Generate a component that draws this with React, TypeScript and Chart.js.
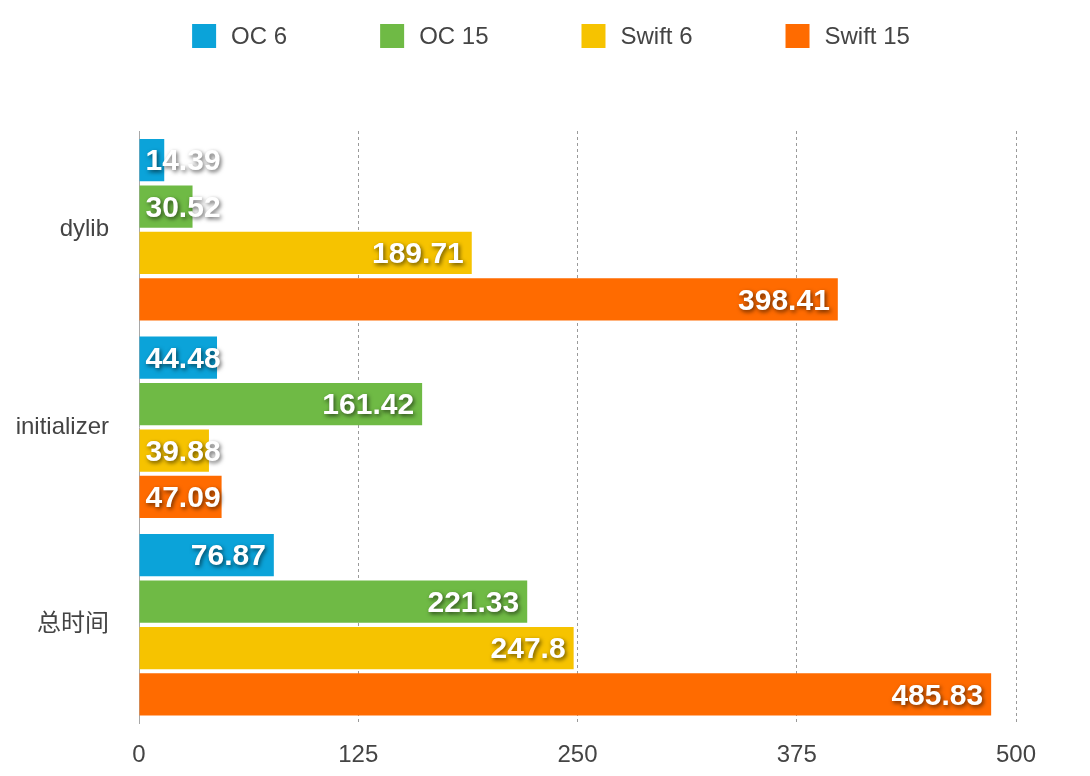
import React, { useEffect, useRef } from "react";
import { Chart, registerables } from "chart.js";

Chart.register(...registerables);

const categories = ["dylib", "initializer", "总时间"];
const seriesNames = ["OC 6", "OC 15", "Swift 6", "Swift 15"];
const oc6 = [14.39, 44.48, 76.87];
const oc15 = [30.52, 161.42, 221.33];
const swift6 = [189.71, 39.88, 247.8];
const swift15 = [398.41, 47.09, 485.83];
const xTicks = [0, 125, 250, 375, 500];
const colors = ["#0BA3D9", "#6FBA45", "#F6C300", "#FF6B00"];

const FONT = "'Liberation Sans', Arial, 'Noto Sans CJK SC', sans-serif";

const legendPlugin = {
  id: "customLegend",
  afterDraw(chart: any) {
    const ctx = chart.ctx;
    const box = 24;
    const gapText = 15;
    const gapItem = 93;
    ctx.save();
    ctx.font = `24px ${FONT}`;
    const items = chart.data.datasets.map((d: any) => ({
      label: d.label,
      color: d.backgroundColor,
      w: ctx.measureText(d.label).width,
    }));
    let total = 0;
    items.forEach((it: any, i: number) => {
      total += box + gapText + it.w + (i < items.length - 1 ? gapItem : 0);
    });
    let x = 543 - total / 2;
    const yTop = 16;
    items.forEach((it: any) => {
      ctx.fillStyle = it.color;
      ctx.fillRect(x, yTop, box, box);
      ctx.fillStyle = "#444444";
      ctx.textBaseline = "middle";
      ctx.textAlign = "left";
      ctx.fillText(it.label, x + box + gapText, yTop + box / 2 + 1);
      x += box + gapText + it.w + gapItem;
    });
    ctx.restore();
  },
};

const labelPlugin = {
  id: "barLabels",
  afterDatasetsDraw(chart: any) {
    const ctx = chart.ctx;
    ctx.save();
    ctx.font = `bold 30px ${FONT}`;
    ctx.textBaseline = "middle";
    ctx.textAlign = "left";
    chart.data.datasets.forEach((ds: any, di: number) => {
      const meta = chart.getDatasetMeta(di);
      meta.data.forEach((el: any, i: number) => {
        const val = ds.data[i];
        const text = String(val);
        const w = ctx.measureText(text).width;
        const end = el.x;
        const start = el.base;
        let left = end - 8 - w;
        if (left < start + 6) left = start + 6;
        ctx.shadowColor = "rgba(0,0,0,0.6)";
        ctx.shadowOffsetX = 1.5;
        ctx.shadowOffsetY = 2;
        ctx.shadowBlur = 4;
        ctx.fillStyle = "#ffffff";
        ctx.fillText(text, left, el.y + 2);
      });
    });
    ctx.restore();
  },
};

export default function App() {
  const ref = useRef<HTMLCanvasElement | null>(null);
  useEffect(() => {
    if (!ref.current) return;
    const seriesData = [oc6, oc15, swift6, swift15];
    const chart = new Chart(ref.current, {
      type: "bar",
      data: {
        labels: categories,
        datasets: seriesNames.map((name, i) => ({
          label: name,
          data: seriesData[i],
          backgroundColor: colors[i],
          borderWidth: 0,
          categoryPercentage: 0.94,
          barPercentage: 0.91,
        })),
      },
      options: {
        indexAxis: "y",
        animation: false,
        responsive: false,
        devicePixelRatio: 1,
        layout: { padding: { top: 123, right: 66, left: 0, bottom: 0 } },
        plugins: {
          legend: { display: false },
          tooltip: { enabled: false },
        },
        scales: {
          x: {
            min: 0,
            max: 500,
            afterBuildTicks: (scale: any) => {
              scale.ticks = xTicks.map((v) => ({ value: v }));
            },
            afterFit: (scale: any) => {
              scale.height = 44;
            },
            grid: {
              color: (c: any) => (c.index === 0 ? "rgba(0,0,0,0)" : "#9a9a9a"),
              lineWidth: 1,
              drawTicks: false,
            },
            border: { display: false, dash: [3, 3] },
            ticks: {
              color: "#444444",
              font: { size: 24, family: FONT },
              padding: 17,
            },
          },
          y: {
            afterFit: (scale: any) => {
              scale.width = 131;
            },
            grid: { display: false, drawTicks: false },
            border: { display: true, color: "#a8a8a8", width: 1 },
            ticks: {
              color: "#444444",
              font: { size: 24, family: FONT },
              padding: 30,
            },
          },
        },
      },
      plugins: [legendPlugin, labelPlugin],
    });
    return () => chart.destroy();
  }, []);
  return (
    <div style={{ width: 1074, height: 760 }}>
      <canvas ref={ref} width={1074} height={760} style={{ display: "block" }} />
    </div>
  );
}
